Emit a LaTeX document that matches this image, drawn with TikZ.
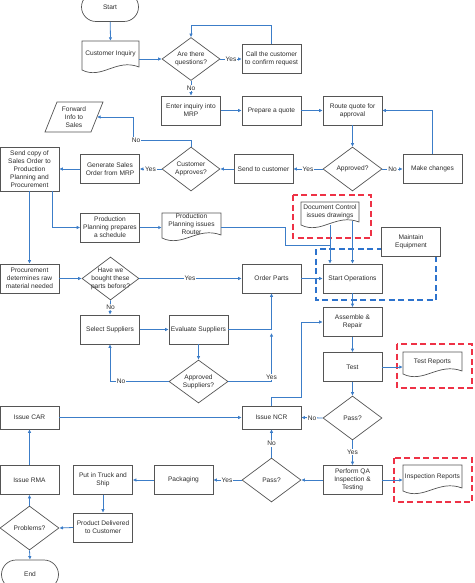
\documentclass[tikz,border=0pt]{standalone}
\usepackage{fontspec}
\setmainfont{Liberation Sans}
\usetikzlibrary{shapes.geometric,shapes.misc,arrows.meta}
\definecolor{ln}{RGB}{60,125,200}
\definecolor{bx}{RGB}{85,85,85}
\definecolor{tx}{RGB}{45,45,45}
\definecolor{rd}{RGB}{238,50,70}
\definecolor{bd}{RGB}{45,115,205}
\tikzset{
 txt/.style={font=\fontsize{6.6}{8}\selectfont, text=tx, align=center, inner sep=0pt},
 box/.style={txt, draw=bx, fill=white, line width=0.7pt, minimum width=59pt, minimum height=29pt},
 dia/.style={diamond, draw=bx, fill=white, line width=0.7pt, minimum width=58pt, minimum height=43pt, inner sep=0pt},
 term/.style={txt, rounded rectangle, draw=bx, fill=white, line width=0.7pt, minimum width=57pt, minimum height=29pt},
 boxline/.style={draw=bx, line width=0.7pt},
 conn/.style={draw=ln, line width=0.8pt, -{Latex[length=3.5pt,width=3.5pt]}},
 plain/.style={draw=ln, line width=0.8pt},
 lbl/.style={txt, fill=white, inner sep=1pt},
 reddash/.style={draw=rd, line width=1.1pt, dash pattern=on 6pt off 3.5pt},
 bluedash/.style={draw=bd, line width=1.1pt, dash pattern=on 6pt off 3.5pt},
}
% name, cx, ytop, width, height, text
\newcommand\mydoc[6]{%
 \draw[boxline,fill=white] ({#2-#4/2},#3) -- ({#2+#4/2},#3) -- ({#2+#4/2},{#3+#5})
   .. controls ({#2+#4/2-0.4*#4},{#3+#5-9}) and ({#2-#4/2+0.35*#4},{#3+#5+13}) .. ({#2-#4/2},{#3+#5+3}) -- cycle;
 \node[txt, minimum width=#4pt, minimum height=#5pt] (#1) at (#2,{#3+#5/2}) {#6};}
\begin{document}
\begin{tikzpicture}[x=1pt,y=-1pt]
\useasboundingbox (0,0) rectangle (474,583);
% groups
\draw[reddash] (293,195) rectangle (371,238);
\draw[reddash] (397,344) rectangle (472,388);
\draw[reddash] (394,458) rectangle (472,502);
\draw[bluedash] (316,249) rectangle (436,300);

% nodes
\node[term] (start) at (110,7) {Start};
\mydoc{inq}{110.5}{41}{57}{26}{Customer Inquiry}
\node[dia, label={[txt]center:Are there\\questions?}] (quest) at (191,59) {};
\node[box] (call) at (271.5,59) {Call the customer\\to confirm request};
\node[box] (enter) at (191,110.5) {Enter inquiry into\\MRP};
\node[box] (prep) at (271.5,110.5) {Prepare a quote};
\node[box] (route) at (352.5,110.5) {Route quote for\\approval};
\node[dia, minimum width=59pt, minimum height=44pt, label={[txt]center:Approved?}] (appr) at (352.5,169) {};
\node[box] (make) at (432.5,169) {Make changes};
\node[box] (send) at (263.5,169) {Send to customer};
\node[dia, minimum height=44pt, label={[txt]center:Customer\\Approves?}] (cust) at (191,169) {};
\node[box] (gen) at (110,169) {Generate Sales\\Order from MRP};
\node[box, minimum height=44pt] (copy) at (29.5,169) {Send copy of\\Sales Order to\\Production\\Planning and\\Procurement};
\draw[boxline, fill=white] (57,102) -- (103,102) -- (91,132) -- (45,132) -- cycle;
\node[txt] (fwd) at (74,117) {Forward\\Info to\\Sales};
\coordinate (fwdR) at (97,117);
\node[box] (pp) at (110,227.5) {Production\\Planning prepares\\a schedule};
\mydoc{router}{191.5}{213}{59}{22}{Production\\Planning issues\\Router}
\mydoc{docc}{330}{202}{58}{20}{Document Control\\issues drawings}
\node[box] (maint) at (411,242) {Maintain\\Equipment};
\node[box] (order) at (271.5,278.5) {Order Parts};
\node[box] (startop) at (352.5,278.5) {Start Operations};
\node[box] (proc) at (29.5,278.5) {Procurement\\determines raw\\material needed};
\node[dia, minimum width=57pt, label={[txt]center:Have we\\bought these\\parts before?}] (have) at (110.5,278.5) {};
\node[box] (sel) at (110,329.5) {Select Suppliers};
\node[box] (eval) at (198.5,329.5) {Evaluate Suppliers};
\node[dia, minimum width=59pt, label={[txt]center:Approved\\Suppliers?}] (asup) at (198.5,381.5) {};
\node[box] (asm) at (352.5,322) {Assemble \&\\Repair};
\node[box] (test) at (352.5,367) {Test};
\mydoc{trep}{432.5}{352}{59}{19}{Test Reports}
\node[box, minimum height=23pt] (car) at (29.5,417.5) {Issue CAR};
\node[box, minimum height=23pt] (ncr) at (271.5,417.5) {Issue NCR};
\node[dia, minimum width=59pt, minimum height=44pt, label={[txt]center:Pass?}] (pass1) at (352.5,418) {};
\node[box] (qa) at (352.5,480) {Perform QA\\Inspection \&\\Testing};
\mydoc{insp}{432.5}{465}{59}{23}{Inspection Reports}
\node[dia, minimum width=59pt, minimum height=44pt, label={[txt]center:Pass?}] (pass2) at (271.5,480) {};
\node[box] (pack) at (183.5,480) {Packaging};
\node[box] (truck) at (103,480) {Put in Truck and\\Ship};
\node[box] (deliv) at (103,527.5) {Product Delivered\\to Customer};
\node[box] (rma) at (29.5,480) {Issue RMA};
\node[dia, minimum width=59pt, minimum height=44pt, label={[txt]center:Problems?}] (prob) at (29.5,528) {};
\node[term] (end) at (30,574.5) {End};

% connectors
\draw[conn] (start) -- (inq.north);
\draw[conn] (inq.east |- quest.west) -- (quest.west);
\draw[conn] (quest.east) -- (call.west);
\draw[conn] (call.north) -- ++(0,-18.5) -| (quest.north);
\draw[conn] (quest.south) -- (enter.north);
\draw[conn] (enter.east) -- (prep.west);
\draw[conn] (prep.east) -- (route.west);
\draw[conn] (route.south) -- (appr.north);
\draw[conn] (appr.east) -- (make.west);
\draw[conn] (make.north) |- (route.east);
\draw[conn] (appr.west) -- (send.east);
\draw[conn] (send.west) -- (cust.east);
\draw[conn] (cust.west) -- (gen.east);
\draw[conn] (gen.west) -- (copy.east);
\draw[conn] (cust.north) |- (133,140) |- (fwdR);
\draw[conn] ([xshift=22.5pt]copy.south) |- (pp.west);
\draw[conn] (copy.south) -- (proc.north);
\draw[conn] (pp.east) -- (pp.east -| router.west);
\draw[plain] (pp.east -| router.east) -- (285,227.5) -- (285,245) -- (330,245);
\draw[conn] (330,225) -- ([xshift=-22.5pt]startop.north);
\draw[conn] (352.5,221) -- (startop.north);
\draw[conn] (proc.east) -- (have.west);
\draw[conn] (have.east) -- (order.west);
\draw[conn] (order.east) -- (startop.west);
\draw[conn] (have.south) -- (sel.north);
\draw[conn] (sel.east) -- (eval.west);
\draw[conn] (eval.east) -| (order.south);
\draw[conn] (eval.south) -- (asup.north);
\draw[conn] (asup.east) -| ([yshift=-3.5pt]order.south |- eval.east);
\draw[conn] (asup.west) -| (sel.south);
\draw[conn] (startop.south) -- (asm.north);
\draw[conn] (asm.south) -- (test.north);
\draw[conn] (test.east) -- (test.east -| trep.west);
\draw[conn] (test.south) -- (pass1.north);
\draw[conn] (pass1.west) -- (ncr.east);
\draw[conn] (pass1.south) -- (qa.north);
\draw[conn] (qa.east) -- (qa.east -| insp.west);
\draw[conn] (qa.west) -- (pass2.east);
\draw[conn] (pass2.north) -- (ncr.south);
\draw[conn] (pass2.west) -- (pack.east);
\draw[conn] (pack.west) -- (truck.east);
\draw[conn] (truck.south) -- (deliv.north);
\draw[conn] (deliv.west) -- (prob.east);
\draw[conn] (prob.north) -- (rma.south);
\draw[conn] (rma.north) -- (car.south);
\draw[conn] (prob.south) -- (end.north);
\draw[conn] (car.east) -- (ncr.west);
\draw[conn] (ncr.north) |- (301,397) |- (asm.west);

% labels
\node[lbl] (l1) at (231,59) {Yes};
\node[lbl] (l2) at (191,88) {No};
\node[lbl] (l3) at (308,169) {Yes};
\node[lbl] (l4) at (392.5,169) {No};
\node[lbl] (l5) at (150.5,169) {Yes};
\node[lbl] (l6) at (136,140) {No};
\node[lbl] (l7) at (190,278.5) {Yes};
\node[lbl] (l8) at (110.5,307) {No};
\node[lbl] (l9) at (121,381.5) {No};
\node[lbl] (l10) at (271.5,377) {Yes};
\node[lbl] (l11) at (312,418) {No};
\node[lbl] (l12) at (352.5,452) {Yes};
\node[lbl] (l13) at (271.5,443.5) {No};
\node[lbl] (l14) at (227,480) {Yes};
\end{tikzpicture}
\end{document}
